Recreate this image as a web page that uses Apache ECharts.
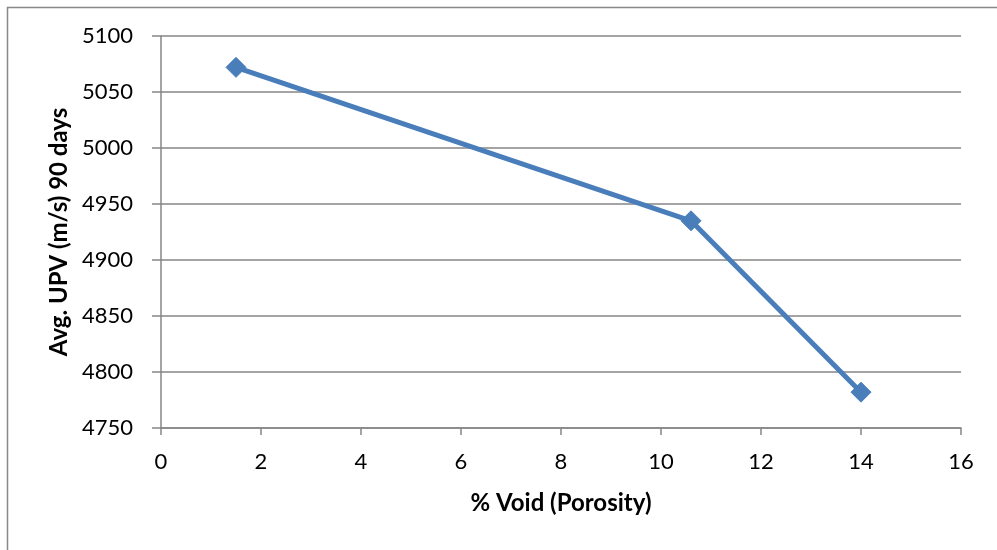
<!DOCTYPE html>
<html>
<head>
<meta charset="utf-8">
<script src="https://cdn.jsdelivr.net/npm/echarts@6/dist/echarts.min.js"></script>
<style>html,body{margin:0;padding:0;background:#fff;}#c{width:997px;height:550px;}</style>
</head>
<body>
<div id="c"></div>
<script>
const voidPct = [1.5, 10.6, 14];
const upv = [5072, 4935, 4782];
const xName = '% Void (Porosity)';
const yName = 'Avg. UPV (m/s) 90 days';

const chart = echarts.init(document.getElementById('c'));
const font = 'Lato, "Open Sans", sans-serif';
chart.setOption({
  animation: false,
  backgroundColor: '#fff',
  graphic: [{
    type: 'rect', shape: {x: 7.5, y: 7.5, width: 1000, height: 600},
    style: {fill: 'none', stroke: '#888', lineWidth: 1.5}, silent: true
  }],
  grid: {left: 161, right: 36, top: 36, bottom: 122},
  xAxis: {
    type: 'value', min: 0, max: 16, interval: 2,
    name: xName, nameLocation: 'middle', nameGap: 63,
    nameTextStyle: {fontFamily: font, fontSize: 24, fontWeight: 'bold', color: '#000'},
    axisLine: {show: true, onZero: false, lineStyle: {color: '#868686', width: 1.5}},
    axisTick: {show: true, length: 7, lineStyle: {color: '#868686', width: 1.5}},
    axisLabel: {fontFamily: font, fontSize: 22, color: '#000', margin: 23, formatter: v => String(v)},
    splitLine: {show: false}
  },
  yAxis: {
    type: 'value', min: 4750, max: 5100, interval: 50,
    name: yName, nameLocation: 'middle', nameGap: 89,
    nameTextStyle: {fontFamily: font, fontSize: 24, fontWeight: 'bold', color: '#000'},
    axisLine: {show: true, lineStyle: {color: '#868686', width: 1.5}},
    axisTick: {show: true, length: 9, lineStyle: {color: '#868686', width: 1.5}},
    axisLabel: {fontFamily: font, fontSize: 22, color: '#000', margin: 28, formatter: v => String(v)},
    splitLine: {show: true, lineStyle: {color: '#868686', width: 1.5}}
  },
  series: [{
    type: 'line',
    data: voidPct.map((x, i) => [x, upv[i]]),
    symbol: 'diamond', symbolSize: 20,
    lineStyle: {color: '#4a7ebb', width: 5},
    itemStyle: {color: '#4a7ebb', borderColor: '#4a7ebb'}
  }]
});
</script>
</body>
</html>
